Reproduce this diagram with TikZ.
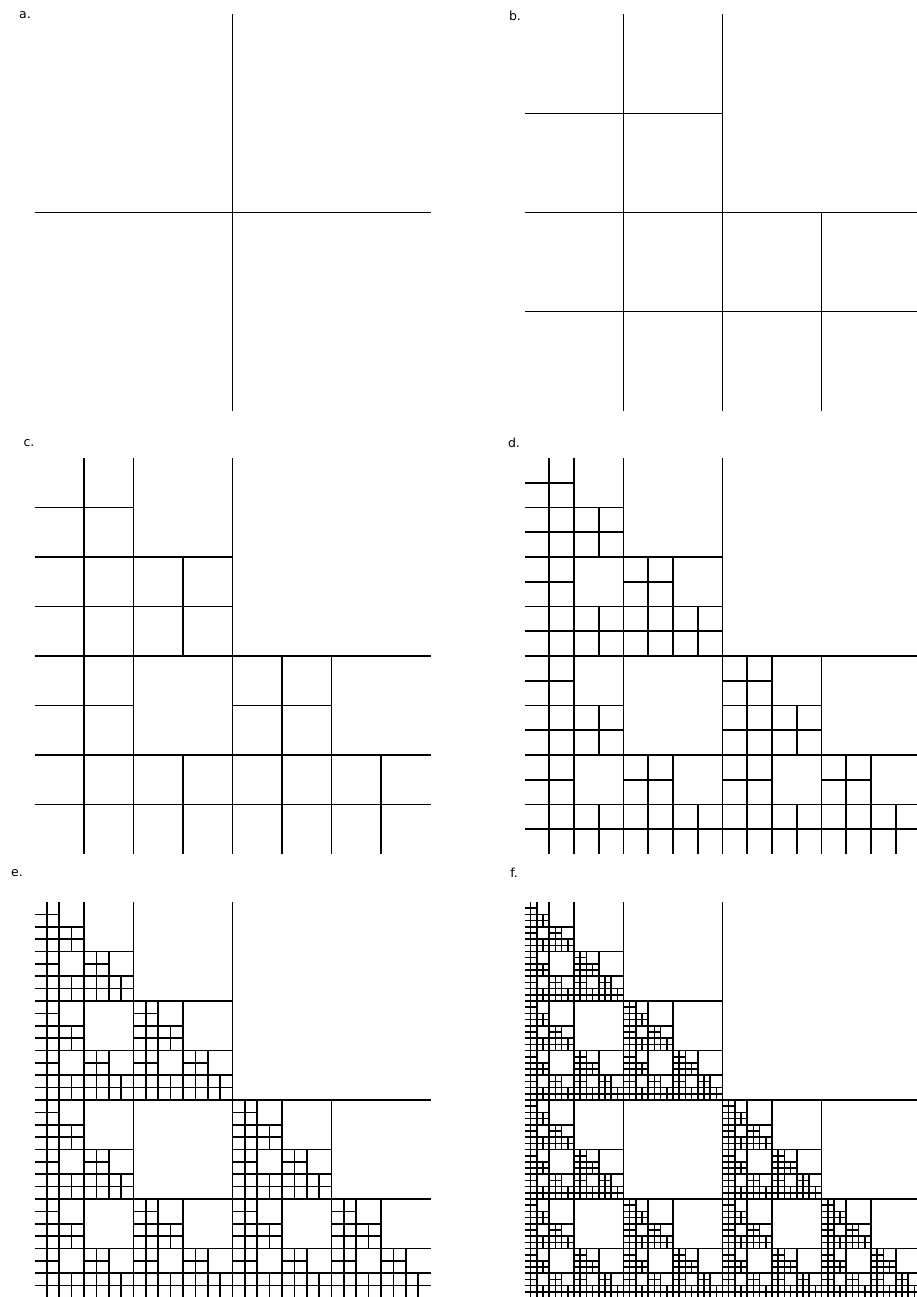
\documentclass[tikz,border=0pt]{standalone}
\usepackage{fontspec}
\setmainfont{DejaVu Sans}
\usetikzlibrary{positioning}

% one cross, then the same in three of its quarters (top right left empty)
\newcommand\fraccross[4]{% centre x, centre y, half size, depth
  \draw[crossline] (#1-#3,#2) -- (#1+#3,#2) (#1,#2-#3) -- (#1,#2+#3);
  \ifnum#4>1
    \begingroup
      \pgfmathsetmacro\hs{#3/2}%
      \pgfmathsetmacro\xa{#1-\hs}%
      \pgfmathsetmacro\xb{#1+\hs}%
      \pgfmathsetmacro\ya{#2-\hs}%
      \pgfmathsetmacro\yb{#2+\hs}%
      \pgfmathtruncatemacro\dn{#4-1}%
      \edef\fracnext{%
        \noexpand\fraccross{\xa}{\ya}{\hs}{\dn}%
        \noexpand\fraccross{\xa}{\yb}{\hs}{\dn}%
        \noexpand\fraccross{\xb}{\yb}{\hs}{\dn}}%
      \fracnext
    \endgroup
  \fi}

\begin{document}
\begin{tikzpicture}[x=1pt, y=-1pt,
    crossline/.style={line width=1.6pt, black},
    panellbl/.style={font=\fontsize{12.5}{14}\selectfont, inner sep=0pt}]
  \useasboundingbox (0,0) rectangle (917,1297);
  \clip (0,0) rectangle (917,1297);
  % column centres (left, right) and row centres
  \def\xL{232.5}
  \def\xR{722.5}
  \def\yA{212.5}
  \def\yB{656}
  \def\yC{1100}
  \def\hw{198}
  % panels a..f: depth 1..6
  \fraccross{\xL}{\yA}{\hw}{1}
  \fraccross{\xR}{\yA}{\hw}{2}
  \fraccross{\xL}{\yB}{\hw}{3}
  \fraccross{\xR}{\yB}{\hw}{4}
  \fraccross{\xL}{\yC}{\hw}{5}
  \fraccross{\xR}{\yC}{\hw}{6}
  % labels
  \node[panellbl] (lbla) at (25,15) {a.};
  \node[panellbl] (lblb) at (515,16) {b.};
  \node[panellbl] (lblc) at (29,443) {c.};
  \node[panellbl] (lbld) at (514,443) {d.};
  \node[panellbl] (lble) at (17,873) {e.};
  \node[panellbl] (lblf) at (514,873) {f.};
\end{tikzpicture}
\end{document}
